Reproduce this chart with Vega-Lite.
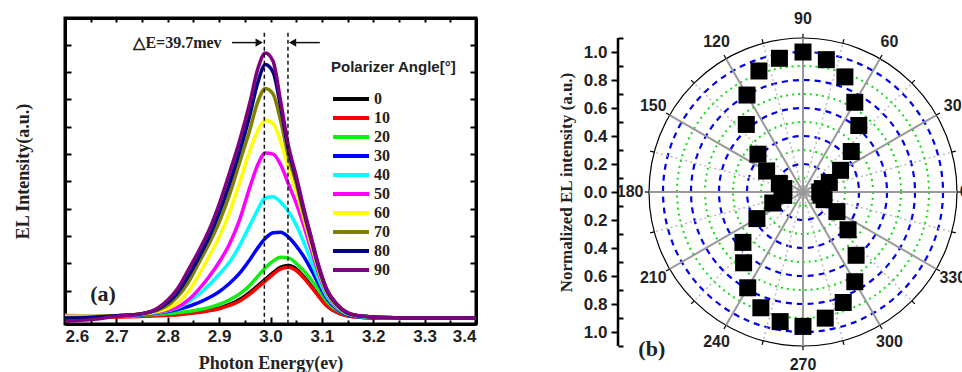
{
"$schema": "https://vega.github.io/schema/vega-lite/v6.json",
"background": "white",
"padding": {"left": 12, "top": 11, "right": 0, "bottom": 0},
"spacing": 72,
"config": {
 "font": "Liberation Sans",
 "view": {"stroke": null},
 "axis": {"grid": false, "domainColor": "#000", "tickColor": "#000", "labelColor": "#222", "titleColor": "#222", "labelFont": "Liberation Sans", "labelFontWeight": "bold", "titleFont": "Liberation Serif", "titleFontWeight": "bold"}
},
"datasets": {
 "spectra": [
{"angle":0,"energy":2.6,"intensity":0.03},{"angle":0,"energy":2.65,"intensity":0.03},{"angle":0,"energy":2.7,"intensity":0.03},{"angle":0,"energy":2.75,"intensity":0.04},{"angle":0,"energy":2.78,"intensity":0.05},{"angle":0,"energy":2.8,"intensity":0.06},{"angle":0,"energy":2.82,"intensity":0.07},{"angle":0,"energy":2.84,"intensity":0.09},{"angle":0,"energy":2.86,"intensity":0.11},{"angle":0,"energy":2.88,"intensity":0.14},{"angle":0,"energy":2.9,"intensity":0.18},{"angle":0,"energy":2.92,"intensity":0.25},{"angle":0,"energy":2.94,"intensity":0.34},{"angle":0,"energy":2.96,"intensity":0.47},{"angle":0,"energy":2.975,"intensity":0.59},{"angle":0,"energy":2.99,"intensity":0.71},{"angle":0,"energy":3.005,"intensity":0.83},{"angle":0,"energy":3.02,"intensity":0.93},{"angle":0,"energy":3.035,"intensity":0.96},{"angle":0,"energy":3.05,"intensity":0.9},{"angle":0,"energy":3.065,"intensity":0.75},{"angle":0,"energy":3.08,"intensity":0.58},{"angle":0,"energy":3.095,"intensity":0.39},{"angle":0,"energy":3.11,"intensity":0.22},{"angle":0,"energy":3.13,"intensity":0.1},{"angle":0,"energy":3.15,"intensity":0.04},{"angle":0,"energy":3.18,"intensity":0.01},{"angle":0,"energy":3.22,"intensity":0},{"angle":0,"energy":3.3,"intensity":0},{"angle":0,"energy":3.4,"intensity":0},
{"angle":10,"energy":2.6,"intensity":0.02},{"angle":10,"energy":2.65,"intensity":0.02},{"angle":10,"energy":2.7,"intensity":0.02},{"angle":10,"energy":2.75,"intensity":0.03},{"angle":10,"energy":2.78,"intensity":0.04},{"angle":10,"energy":2.8,"intensity":0.05},{"angle":10,"energy":2.82,"intensity":0.06},{"angle":10,"energy":2.84,"intensity":0.08},{"angle":10,"energy":2.86,"intensity":0.1},{"angle":10,"energy":2.88,"intensity":0.13},{"angle":10,"energy":2.9,"intensity":0.17},{"angle":10,"energy":2.92,"intensity":0.23},{"angle":10,"energy":2.94,"intensity":0.31},{"angle":10,"energy":2.96,"intensity":0.44},{"angle":10,"energy":2.975,"intensity":0.56},{"angle":10,"energy":2.99,"intensity":0.68},{"angle":10,"energy":3.005,"intensity":0.8},{"angle":10,"energy":3.02,"intensity":0.9},{"angle":10,"energy":3.035,"intensity":0.93},{"angle":10,"energy":3.05,"intensity":0.87},{"angle":10,"energy":3.065,"intensity":0.73},{"angle":10,"energy":3.08,"intensity":0.56},{"angle":10,"energy":3.095,"intensity":0.38},{"angle":10,"energy":3.11,"intensity":0.22},{"angle":10,"energy":3.13,"intensity":0.1},{"angle":10,"energy":3.15,"intensity":0.04},{"angle":10,"energy":3.18,"intensity":0.01},{"angle":10,"energy":3.22,"intensity":0},{"angle":10,"energy":3.3,"intensity":0},{"angle":10,"energy":3.4,"intensity":0},
{"angle":20,"energy":2.6,"intensity":0.02},{"angle":20,"energy":2.65,"intensity":0.03},{"angle":20,"energy":2.7,"intensity":0.03},{"angle":20,"energy":2.75,"intensity":0.05},{"angle":20,"energy":2.78,"intensity":0.07},{"angle":20,"energy":2.8,"intensity":0.08},{"angle":20,"energy":2.82,"intensity":0.1},{"angle":20,"energy":2.84,"intensity":0.12},{"angle":20,"energy":2.86,"intensity":0.15},{"angle":20,"energy":2.88,"intensity":0.19},{"angle":20,"energy":2.9,"intensity":0.25},{"angle":20,"energy":2.92,"intensity":0.33},{"angle":20,"energy":2.94,"intensity":0.44},{"angle":20,"energy":2.96,"intensity":0.6},{"angle":20,"energy":2.975,"intensity":0.76},{"angle":20,"energy":2.99,"intensity":0.92},{"angle":20,"energy":3.005,"intensity":1.04},{"angle":20,"energy":3.02,"intensity":1.11},{"angle":20,"energy":3.035,"intensity":1.1},{"angle":20,"energy":3.05,"intensity":1.0},{"angle":20,"energy":3.065,"intensity":0.86},{"angle":20,"energy":3.08,"intensity":0.69},{"angle":20,"energy":3.095,"intensity":0.5},{"angle":20,"energy":3.11,"intensity":0.3},{"angle":20,"energy":3.13,"intensity":0.14},{"angle":20,"energy":3.15,"intensity":0.06},{"angle":20,"energy":3.18,"intensity":0.02},{"angle":20,"energy":3.22,"intensity":0.01},{"angle":20,"energy":3.3,"intensity":0},{"angle":20,"energy":3.4,"intensity":0},
{"angle":30,"energy":2.6,"intensity":0.04},{"angle":30,"energy":2.65,"intensity":0.04},{"angle":30,"energy":2.7,"intensity":0.04},{"angle":30,"energy":2.75,"intensity":0.06},{"angle":30,"energy":2.78,"intensity":0.09},{"angle":30,"energy":2.8,"intensity":0.12},{"angle":30,"energy":2.82,"intensity":0.16},{"angle":30,"energy":2.84,"intensity":0.21},{"angle":30,"energy":2.86,"intensity":0.28},{"angle":30,"energy":2.88,"intensity":0.37},{"angle":30,"energy":2.9,"intensity":0.48},{"angle":30,"energy":2.92,"intensity":0.63},{"angle":30,"energy":2.94,"intensity":0.82},{"angle":30,"energy":2.96,"intensity":1.07},{"angle":30,"energy":2.975,"intensity":1.28},{"angle":30,"energy":2.99,"intensity":1.46},{"angle":30,"energy":3.005,"intensity":1.56},{"angle":30,"energy":3.02,"intensity":1.57},{"angle":30,"energy":3.035,"intensity":1.48},{"angle":30,"energy":3.05,"intensity":1.32},{"angle":30,"energy":3.065,"intensity":1.12},{"angle":30,"energy":3.08,"intensity":0.87},{"angle":30,"energy":3.095,"intensity":0.6},{"angle":30,"energy":3.11,"intensity":0.35},{"angle":30,"energy":3.13,"intensity":0.16},{"angle":30,"energy":3.15,"intensity":0.06},{"angle":30,"energy":3.18,"intensity":0.02},{"angle":30,"energy":3.22,"intensity":0.01},{"angle":30,"energy":3.3,"intensity":0},{"angle":30,"energy":3.4,"intensity":0},
{"angle":40,"energy":2.6,"intensity":0.05},{"angle":40,"energy":2.65,"intensity":0.04},{"angle":40,"energy":2.7,"intensity":0.04},{"angle":40,"energy":2.75,"intensity":0.07},{"angle":40,"energy":2.78,"intensity":0.1},{"angle":40,"energy":2.8,"intensity":0.13},{"angle":40,"energy":2.82,"intensity":0.19},{"angle":40,"energy":2.84,"intensity":0.29},{"angle":40,"energy":2.86,"intensity":0.43},{"angle":40,"energy":2.88,"intensity":0.6},{"angle":40,"energy":2.9,"intensity":0.8},{"angle":40,"energy":2.92,"intensity":1.02},{"angle":40,"energy":2.94,"intensity":1.33},{"angle":40,"energy":2.96,"intensity":1.7},{"angle":40,"energy":2.975,"intensity":1.98},{"angle":40,"energy":2.99,"intensity":2.2},{"angle":40,"energy":3.005,"intensity":2.22},{"angle":40,"energy":3.02,"intensity":2.12},{"angle":40,"energy":3.035,"intensity":1.95},{"angle":40,"energy":3.05,"intensity":1.7},{"angle":40,"energy":3.065,"intensity":1.38},{"angle":40,"energy":3.08,"intensity":1.02},{"angle":40,"energy":3.095,"intensity":0.68},{"angle":40,"energy":3.11,"intensity":0.39},{"angle":40,"energy":3.13,"intensity":0.18},{"angle":40,"energy":3.15,"intensity":0.07},{"angle":40,"energy":3.18,"intensity":0.02},{"angle":40,"energy":3.22,"intensity":0.01},{"angle":40,"energy":3.3,"intensity":0},{"angle":40,"energy":3.4,"intensity":0},
{"angle":50,"energy":2.6,"intensity":0.04},{"angle":50,"energy":2.65,"intensity":0.03},{"angle":50,"energy":2.7,"intensity":0.04},{"angle":50,"energy":2.75,"intensity":0.07},{"angle":50,"energy":2.78,"intensity":0.11},{"angle":50,"energy":2.8,"intensity":0.14},{"angle":50,"energy":2.82,"intensity":0.2},{"angle":50,"energy":2.84,"intensity":0.33},{"angle":50,"energy":2.86,"intensity":0.52},{"angle":50,"energy":2.88,"intensity":0.75},{"angle":50,"energy":2.9,"intensity":1.02},{"angle":50,"energy":2.92,"intensity":1.35},{"angle":50,"energy":2.94,"intensity":1.8},{"angle":50,"energy":2.96,"intensity":2.4},{"angle":50,"energy":2.975,"intensity":2.8},{"angle":50,"energy":2.99,"intensity":3.02},{"angle":50,"energy":3.005,"intensity":3.0},{"angle":50,"energy":3.02,"intensity":2.8},{"angle":50,"energy":3.035,"intensity":2.45},{"angle":50,"energy":3.05,"intensity":2.1},{"angle":50,"energy":3.065,"intensity":1.68},{"angle":50,"energy":3.08,"intensity":1.22},{"angle":50,"energy":3.095,"intensity":0.78},{"angle":50,"energy":3.11,"intensity":0.44},{"angle":50,"energy":3.13,"intensity":0.2},{"angle":50,"energy":3.15,"intensity":0.08},{"angle":50,"energy":3.18,"intensity":0.03},{"angle":50,"energy":3.22,"intensity":0.01},{"angle":50,"energy":3.3,"intensity":0},{"angle":50,"energy":3.4,"intensity":0},
{"angle":60,"energy":2.6,"intensity":0.03},{"angle":60,"energy":2.65,"intensity":0.03},{"angle":60,"energy":2.7,"intensity":0.04},{"angle":60,"energy":2.75,"intensity":0.08},{"angle":60,"energy":2.78,"intensity":0.12},{"angle":60,"energy":2.8,"intensity":0.17},{"angle":60,"energy":2.82,"intensity":0.28},{"angle":60,"energy":2.84,"intensity":0.48},{"angle":60,"energy":2.86,"intensity":0.78},{"angle":60,"energy":2.88,"intensity":1.12},{"angle":60,"energy":2.9,"intensity":1.48},{"angle":60,"energy":2.92,"intensity":1.93},{"angle":60,"energy":2.94,"intensity":2.48},{"angle":60,"energy":2.96,"intensity":3.07},{"angle":60,"energy":2.975,"intensity":3.42},{"angle":60,"energy":2.99,"intensity":3.62},{"angle":60,"energy":3.005,"intensity":3.56},{"angle":60,"energy":3.02,"intensity":3.22},{"angle":60,"energy":3.035,"intensity":2.75},{"angle":60,"energy":3.05,"intensity":2.32},{"angle":60,"energy":3.065,"intensity":1.82},{"angle":60,"energy":3.08,"intensity":1.32},{"angle":60,"energy":3.095,"intensity":0.84},{"angle":60,"energy":3.11,"intensity":0.46},{"angle":60,"energy":3.13,"intensity":0.22},{"angle":60,"energy":3.15,"intensity":0.08},{"angle":60,"energy":3.18,"intensity":0.03},{"angle":60,"energy":3.22,"intensity":0.01},{"angle":60,"energy":3.3,"intensity":0},{"angle":60,"energy":3.4,"intensity":0},
{"angle":70,"energy":2.6,"intensity":0.01},{"angle":70,"energy":2.65,"intensity":0.02},{"angle":70,"energy":2.7,"intensity":0.04},{"angle":70,"energy":2.75,"intensity":0.08},{"angle":70,"energy":2.78,"intensity":0.14},{"angle":70,"energy":2.8,"intensity":0.23},{"angle":70,"energy":2.82,"intensity":0.4},{"angle":70,"energy":2.84,"intensity":0.65},{"angle":70,"energy":2.86,"intensity":1.0},{"angle":70,"energy":2.88,"intensity":1.35},{"angle":70,"energy":2.9,"intensity":1.75},{"angle":70,"energy":2.92,"intensity":2.25},{"angle":70,"energy":2.94,"intensity":2.85},{"angle":70,"energy":2.96,"intensity":3.45},{"angle":70,"energy":2.975,"intensity":3.95},{"angle":70,"energy":2.99,"intensity":4.2},{"angle":70,"energy":3.005,"intensity":4.1},{"angle":70,"energy":3.02,"intensity":3.6},{"angle":70,"energy":3.035,"intensity":2.95},{"angle":70,"energy":3.05,"intensity":2.47},{"angle":70,"energy":3.065,"intensity":1.9},{"angle":70,"energy":3.08,"intensity":1.38},{"angle":70,"energy":3.095,"intensity":0.87},{"angle":70,"energy":3.11,"intensity":0.48},{"angle":70,"energy":3.13,"intensity":0.23},{"angle":70,"energy":3.15,"intensity":0.09},{"angle":70,"energy":3.18,"intensity":0.03},{"angle":70,"energy":3.22,"intensity":0.01},{"angle":70,"energy":3.3,"intensity":0},{"angle":70,"energy":3.4,"intensity":0},
{"angle":80,"energy":2.6,"intensity":0.0},{"angle":80,"energy":2.65,"intensity":0.01},{"angle":80,"energy":2.7,"intensity":0.04},{"angle":80,"energy":2.75,"intensity":0.08},{"angle":80,"energy":2.78,"intensity":0.16},{"angle":80,"energy":2.8,"intensity":0.28},{"angle":80,"energy":2.82,"intensity":0.47},{"angle":80,"energy":2.84,"intensity":0.76},{"angle":80,"energy":2.86,"intensity":1.1},{"angle":80,"energy":2.88,"intensity":1.47},{"angle":80,"energy":2.9,"intensity":1.92},{"angle":80,"energy":2.92,"intensity":2.45},{"angle":80,"energy":2.94,"intensity":3.05},{"angle":80,"energy":2.96,"intensity":3.72},{"angle":80,"energy":2.975,"intensity":4.3},{"angle":80,"energy":2.99,"intensity":4.64},{"angle":80,"energy":3.005,"intensity":4.5},{"angle":80,"energy":3.02,"intensity":3.85},{"angle":80,"energy":3.035,"intensity":3.08},{"angle":80,"energy":3.05,"intensity":2.55},{"angle":80,"energy":3.065,"intensity":1.96},{"angle":80,"energy":3.08,"intensity":1.42},{"angle":80,"energy":3.095,"intensity":0.9},{"angle":80,"energy":3.11,"intensity":0.5},{"angle":80,"energy":3.13,"intensity":0.24},{"angle":80,"energy":3.15,"intensity":0.09},{"angle":80,"energy":3.18,"intensity":0.03},{"angle":80,"energy":3.22,"intensity":0.01},{"angle":80,"energy":3.3,"intensity":0},{"angle":80,"energy":3.4,"intensity":0},
{"angle":90,"energy":2.6,"intensity":-0.06},{"angle":90,"energy":2.65,"intensity":-0.03},{"angle":90,"energy":2.7,"intensity":0.03},{"angle":90,"energy":2.75,"intensity":0.08},{"angle":90,"energy":2.78,"intensity":0.18},{"angle":90,"energy":2.8,"intensity":0.33},{"angle":90,"energy":2.82,"intensity":0.55},{"angle":90,"energy":2.84,"intensity":0.88},{"angle":90,"energy":2.86,"intensity":1.22},{"angle":90,"energy":2.88,"intensity":1.6},{"angle":90,"energy":2.9,"intensity":2.08},{"angle":90,"energy":2.92,"intensity":2.65},{"angle":90,"energy":2.94,"intensity":3.25},{"angle":90,"energy":2.96,"intensity":3.95},{"angle":90,"energy":2.975,"intensity":4.55},{"angle":90,"energy":2.99,"intensity":4.85},{"angle":90,"energy":3.005,"intensity":4.7},{"angle":90,"energy":3.02,"intensity":3.95},{"angle":90,"energy":3.035,"intensity":3.15},{"angle":90,"energy":3.05,"intensity":2.6},{"angle":90,"energy":3.065,"intensity":2.0},{"angle":90,"energy":3.08,"intensity":1.45},{"angle":90,"energy":3.095,"intensity":0.92},{"angle":90,"energy":3.11,"intensity":0.52},{"angle":90,"energy":3.13,"intensity":0.25},{"angle":90,"energy":3.15,"intensity":0.1},{"angle":90,"energy":3.18,"intensity":0.03},{"angle":90,"energy":3.22,"intensity":0.01},{"angle":90,"energy":3.3,"intensity":0},{"angle":90,"energy":3.4,"intensity":0}
 ],
 "polar": [
{"angle":0,"r":0.12},{"angle":10,"r":0.14},{"angle":20,"r":0.2},{"angle":30,"r":0.31},{"angle":40,"r":0.45},{"angle":50,"r":0.62},{"angle":60,"r":0.74},{"angle":70,"r":0.875},{"angle":80,"r":0.96},{"angle":90,"r":1.0},{"angle":100,"r":0.97},{"angle":110,"r":0.92},{"angle":120,"r":0.8},{"angle":130,"r":0.63},{"angle":140,"r":0.42},{"angle":150,"r":0.3},{"angle":160,"r":0.18},{"angle":170,"r":0.14},{"angle":180,"r":0.15},{"angle":190,"r":0.14},{"angle":200,"r":0.23},{"angle":210,"r":0.38},{"angle":220,"r":0.56},{"angle":230,"r":0.66},{"angle":240,"r":0.79},{"angle":250,"r":0.88},{"angle":260,"r":0.94},{"angle":270,"r":0.96},{"angle":280,"r":0.915},{"angle":290,"r":0.84},{"angle":300,"r":0.74},{"angle":310,"r":0.59},{"angle":320,"r":0.42},{"angle":330,"r":0.28},{"angle":340,"r":0.16},{"angle":350,"r":0.13}
 ],
 "spokes": [
{"a":0,"kind":"major"},{"a":15,"kind":"minor"},{"a":30,"kind":"major"},{"a":45,"kind":"minor"},{"a":60,"kind":"major"},{"a":75,"kind":"minor"},{"a":90,"kind":"major"},{"a":105,"kind":"minor"},{"a":120,"kind":"major"},{"a":135,"kind":"minor"},{"a":150,"kind":"major"},{"a":165,"kind":"minor"},{"a":180,"kind":"major"},{"a":195,"kind":"minor"},{"a":210,"kind":"major"},{"a":225,"kind":"minor"},{"a":240,"kind":"major"},{"a":255,"kind":"minor"},{"a":270,"kind":"major"},{"a":285,"kind":"minor"},{"a":300,"kind":"major"},{"a":315,"kind":"minor"},{"a":330,"kind":"major"},{"a":345,"kind":"minor"}
 ],
 "rings": [
{"r":0.1,"kind":"dot"},{"r":0.2,"kind":"dash"},{"r":0.3,"kind":"dot"},{"r":0.4,"kind":"dash"},{"r":0.5,"kind":"dot"},{"r":0.6,"kind":"dash"},{"r":0.7,"kind":"dot"},{"r":0.8,"kind":"dash"},{"r":0.9,"kind":"dot"},{"r":1.0,"kind":"dash"},{"r":1.1,"kind":"outer"}
 ]
},
"hconcat": [
 {
  "width": 411, "height": 306,
  "view": {"stroke": "black", "strokeWidth": 3},
  "resolve": {"axis": {"x": "independent", "y": "independent"}},
  "layer": [
   {
    "data": {"name": "spectra"},
    "mark": {"type": "line", "strokeWidth": 3.5, "interpolate": "monotone"},
    "encoding": {
     "x": {"field": "energy", "type": "quantitative", "scale": {"domain": [2.6, 3.4], "nice": false, "zero": false},
      "axis": {"orient": "bottom", "values": [2.6, 2.7, 2.8, 2.9, 3.0, 3.1, 3.2, 3.3, 3.4], "format": ".1f", "tickSize": -7, "tickWidth": 2, "domainWidth": 3, "labelFontSize": 17, "labelPadding": 11, "title": "Photon Energy(ev)", "titleFontSize": 18, "titlePadding": 10}},
     "y": {"field": "intensity", "type": "quantitative", "scale": {"domain": [-0.11, 5.49], "nice": false, "zero": false},
      "axis": {"orient": "left", "values": [0, 0.5, 1, 1.5, 2, 2.5, 3, 3.5, 4, 4.5, 5], "labels": false, "tickSize": -6, "tickWidth": 2, "domainWidth": 3, "title": "EL Intensity(a.u.)", "titleFontSize": 18, "titlePadding": 32}},
     "color": {"field": "angle", "type": "nominal",
      "scale": {"domain": [0, 10, 20, 30, 40, 50, 60, 70, 80, 90], "range": ["#000000", "#ff0000", "#11ee11", "#0000ff", "#00ffff", "#ff00ff", "#ffff00", "#808000", "#000080", "#800080"]},
      "legend": {"orient": "none", "legendX": 266, "legendY": 42, "title": "Polarizer Angle[°]", "titleFont": "Liberation Sans", "titleFontWeight": "bold", "titleFontSize": 15, "titleColor": "#222", "titlePadding": 13, "titleLimit": 300, "symbolType": "M-1,0H3", "symbolSize": 324, "symbolStrokeWidth": 4, "labelFont": "Liberation Serif", "labelFontWeight": "bold", "labelFontSize": 16, "labelColor": "#222", "labelOffset": 21, "rowPadding": 0}}
    }
   },
   {
    "data": {"values": [{"energy": 2.988, "top": 5.22, "bottom": -0.11}, {"energy": 3.034, "top": 5.22, "bottom": -0.11}]},
    "mark": {"type": "rule", "color": "#111", "strokeWidth": 1.5, "strokeDash": [4, 3]},
    "encoding": {
     "x": {"field": "energy", "type": "quantitative", "scale": {"domain": [2.6, 3.4], "nice": false, "zero": false},
      "axis": {"orient": "top", "values": [2.6, 2.65, 2.7, 2.75, 2.8, 2.85, 2.9, 2.95, 3.0, 3.05, 3.1, 3.15, 3.2, 3.25, 3.3, 3.35, 3.4], "labels": false, "tickSize": -4, "tickWidth": 2, "domainWidth": 3, "title": null}},
     "y": {"field": "top", "type": "quantitative", "scale": {"domain": [-0.11, 5.49], "nice": false, "zero": false},
      "axis": {"orient": "right", "values": [0, 0.5, 1, 1.5, 2, 2.5, 3, 3.5, 4, 4.5, 5], "labels": false, "tickSize": -6, "tickWidth": 2, "domainWidth": 3, "title": null}},
     "y2": {"field": "bottom"}
    }
   },
   {
    "data": {"values": [{"start": 2.925, "end": 2.982, "level": 5.04}, {"start": 3.096, "end": 3.04, "level": 5.04}]},
    "mark": {"type": "rule", "color": "#111", "strokeWidth": 1.5},
    "encoding": {
     "x": {"field": "start", "type": "quantitative", "scale": {"domain": [2.6, 3.4], "nice": false, "zero": false},
      "axis": {"orient": "bottom", "values": [2.65, 2.75, 2.85, 2.95, 3.05, 3.15, 3.25, 3.35], "labels": false, "tickSize": -4, "tickWidth": 2, "domain": false, "title": null}},
     "x2": {"field": "end"},
     "y": {"field": "level", "type": "quantitative", "scale": {"domain": [-0.11, 5.49], "nice": false, "zero": false}, "axis": null}
    }
   },
   {
    "data": {"values": [{"energy": 2.978, "level": 5.04, "dir": "triangle-right"}, {"energy": 3.043, "level": 5.04, "dir": "triangle-left"}]},
    "mark": {"type": "point", "filled": true, "color": "#111", "size": 70, "opacity": 1},
    "encoding": {
     "x": {"field": "energy", "type": "quantitative", "scale": {"domain": [2.6, 3.4], "nice": false, "zero": false}, "axis": null},
     "y": {"field": "level", "type": "quantitative", "scale": {"domain": [-0.11, 5.49], "nice": false, "zero": false}, "axis": null},
     "shape": {"field": "dir", "type": "nominal", "scale": {"domain": ["triangle-right", "triangle-left"], "range": ["triangle-right", "triangle-left"]}, "legend": null}
    }
   },
   {
    "data": {"values": [{"energy": 2.819, "level": 5.04, "label": "△E=39.7mev", "size": 16}, {"energy": 2.674, "level": 0.44, "label": "(a)", "size": 22}]},
    "mark": {"type": "text", "font": "Liberation Serif", "fontWeight": "bold", "color": "#222", "align": "center", "baseline": "middle"},
    "encoding": {
     "x": {"field": "energy", "type": "quantitative", "scale": {"domain": [2.6, 3.4], "nice": false, "zero": false}, "axis": null},
     "y": {"field": "level", "type": "quantitative", "scale": {"domain": [-0.11, 5.49], "nice": false, "zero": false}, "axis": null},
     "text": {"field": "label"},
     "size": {"field": "size", "type": "quantitative", "scale": null, "legend": null}
    }
   }
  ]
 },
 {
  "width": 308, "height": 328,
  "resolve": {"axis": {"y": "independent"}},
  "layer": [
   {
    "data": {"name": "rings"},
    "transform": [{"filter": "datum.kind == 'dot'"}, {"calculate": "0", "as": "o"}],
    "mark": {"type": "point", "shape": "circle", "filled": false, "stroke": "#11dd11", "strokeWidth": 2, "strokeDash": [2, 4], "opacity": 1},
    "encoding": {
     "x": {"field": "o", "type": "quantitative", "scale": {"domain": [-1.1, 1.1], "nice": false, "zero": false}, "axis": null},
     "y": {"field": "o", "type": "quantitative", "scale": {"domain": [-1.1, 1.243], "nice": false, "zero": false}, "axis": null},
     "size": {"field": "r", "type": "quantitative", "scale": {"type": "pow", "exponent": 2, "domain": [0, 1.1], "range": [0, 94864], "zero": true, "nice": false}, "legend": null}
    }
   },
   {
    "data": {"name": "rings"},
    "transform": [{"filter": "datum.kind == 'dash'"}, {"calculate": "0", "as": "o"}],
    "mark": {"type": "point", "shape": "circle", "filled": false, "stroke": "#0000ee", "strokeWidth": 2.2, "strokeDash": [6, 5], "opacity": 1},
    "encoding": {
     "x": {"field": "o", "type": "quantitative", "scale": {"domain": [-1.1, 1.1], "nice": false, "zero": false}, "axis": null},
     "y": {"field": "o", "type": "quantitative", "scale": {"domain": [-1.1, 1.243], "nice": false, "zero": false}, "axis": null},
     "size": {"field": "r", "type": "quantitative", "scale": {"type": "pow", "exponent": 2, "domain": [0, 1.1], "range": [0, 94864], "zero": true, "nice": false}, "legend": null}
    }
   },
   {
    "data": {"name": "rings"},
    "transform": [{"filter": "datum.kind == 'outer'"}, {"calculate": "0", "as": "o"}],
    "mark": {"type": "point", "shape": "circle", "filled": false, "stroke": "#000", "strokeWidth": 1.2, "opacity": 1},
    "encoding": {
     "x": {"field": "o", "type": "quantitative", "scale": {"domain": [-1.1, 1.1], "nice": false, "zero": false}, "axis": null},
     "y": {"field": "o", "type": "quantitative", "scale": {"domain": [-1.1, 1.243], "nice": false, "zero": false}, "axis": null},
     "size": {"field": "r", "type": "quantitative", "scale": {"type": "pow", "exponent": 2, "domain": [0, 1.1], "range": [0, 94864], "zero": true, "nice": false}, "legend": null}
    }
   },
   {
    "data": {"name": "spokes"},
    "transform": [{"filter": "datum.kind == 'minor'"}, {"calculate": "1.1*cos(datum.a*PI/180)", "as": "ex"}, {"calculate": "1.1*sin(datum.a*PI/180)", "as": "ey"}, {"calculate": "0", "as": "o"}],
    "mark": {"type": "rule", "color": "#bbbbbb", "strokeWidth": 1.5, "strokeDash": [2, 3]},
    "encoding": {
     "x": {"field": "o", "type": "quantitative", "scale": {"domain": [-1.1, 1.1], "nice": false, "zero": false}, "axis": null},
     "y": {"field": "o", "type": "quantitative", "scale": {"domain": [-1.1, 1.243], "nice": false, "zero": false},
      "axis": {"orient": "left", "offset": 31, "values": [-1.1, -0.9, -0.7, -0.5, -0.3, -0.1, 0.1, 0.3, 0.5, 0.7, 0.9, 1.1], "labels": false, "domain": false, "tickSize": -5, "tickWidth": 2, "title": null}},
     "x2": {"field": "ex"},
     "y2": {"field": "ey"}
    }
   },
   {
    "data": {"name": "spokes"},
    "transform": [{"filter": "datum.kind == 'major'"}, {"calculate": "1.1*cos(datum.a*PI/180)", "as": "ex"}, {"calculate": "1.1*sin(datum.a*PI/180)", "as": "ey"}, {"calculate": "0", "as": "o"}],
    "mark": {"type": "rule", "color": "#999999", "strokeWidth": 2},
    "encoding": {
     "x": {"field": "o", "type": "quantitative", "scale": {"domain": [-1.1, 1.1], "nice": false, "zero": false}, "axis": null},
     "y": {"field": "o", "type": "quantitative", "scale": {"domain": [-1.1, 1.243], "nice": false, "zero": false}, "axis": null},
     "x2": {"field": "ex"},
     "y2": {"field": "ey"}
    }
   },
   {
    "data": {"name": "spokes"},
    "transform": [{"calculate": "1.1*cos(datum.a*PI/180)", "as": "sx"}, {"calculate": "1.1*sin(datum.a*PI/180)", "as": "sy"}, {"calculate": "1.13*cos(datum.a*PI/180)", "as": "ex"}, {"calculate": "1.13*sin(datum.a*PI/180)", "as": "ey"}],
    "mark": {"type": "rule", "color": "#000", "strokeWidth": 1.2},
    "encoding": {
     "x": {"field": "sx", "type": "quantitative", "scale": {"domain": [-1.1, 1.1], "nice": false, "zero": false}, "axis": null},
     "y": {"field": "sy", "type": "quantitative", "scale": {"domain": [-1.1, 1.243], "nice": false, "zero": false}, "axis": null},
     "x2": {"field": "ex"},
     "y2": {"field": "ey"}
    }
   },
   {
    "data": {"values": [{"ax": -1.3214, "lo": -1.1, "hi": 1.1}]},
    "mark": {"type": "rule", "color": "#000", "strokeWidth": 2.5},
    "encoding": {
     "x": {"field": "ax", "type": "quantitative", "scale": {"domain": [-1.1, 1.1], "nice": false, "zero": false}, "axis": null},
     "y": {"field": "lo", "type": "quantitative", "scale": {"domain": [-1.1, 1.243], "nice": false, "zero": false}, "axis": null},
     "y2": {"field": "hi"}
    }
   },
   {
    "data": {"name": "polar"},
    "transform": [{"calculate": "datum.r*cos(datum.angle*PI/180)", "as": "px"}, {"calculate": "datum.r*sin(datum.angle*PI/180)", "as": "py"}],
    "mark": {"type": "point", "shape": "square", "filled": true, "color": "#000", "size": 289, "opacity": 1},
    "encoding": {
     "x": {"field": "px", "type": "quantitative", "scale": {"domain": [-1.1, 1.1], "nice": false, "zero": false}, "axis": null},
     "y": {"field": "py", "type": "quantitative", "scale": {"domain": [-1.1, 1.243], "nice": false, "zero": false},
      "axis": {"orient": "left", "offset": 31, "values": [-1, -0.8, -0.6, -0.4, -0.2, 0, 0.2, 0.4, 0.6, 0.8, 1], "labelExpr": "format(abs(datum.value), '.1f')", "domain": false, "tickSize": 7, "tickWidth": 2, "labelFontSize": 17, "labelPadding": 4, "title": "Normalized EL intensity (a.u.)", "titleFontSize": 17, "titlePadding": 8, "titleY": 164}}
    }
   },
   {
    "data": {"values": [{"a": 30, "label": "30"}, {"a": 60, "label": "60"}, {"a": 90, "label": "90"}, {"a": 120, "label": "120"}, {"a": 150, "label": "150"}, {"a": 180, "label": "180"}, {"a": 210, "label": "210"}, {"a": 240, "label": "240"}, {"a": 270, "label": "270"}, {"a": 300, "label": "300"}, {"a": 330, "label": "330"}]},
    "transform": [{"calculate": "1.235*cos(datum.a*PI/180)", "as": "lx"}, {"calculate": "1.235*sin(datum.a*PI/180)", "as": "ly"}],
    "mark": {"type": "text", "font": "Liberation Sans", "fontWeight": "bold", "fontSize": 16, "color": "#222", "align": "center", "baseline": "middle"},
    "encoding": {
     "x": {"field": "lx", "type": "quantitative", "scale": {"domain": [-1.1, 1.1], "nice": false, "zero": false}, "axis": null},
     "y": {"field": "ly", "type": "quantitative", "scale": {"domain": [-1.1, 1.243], "nice": false, "zero": false}, "axis": null},
     "text": {"field": "label"}
    }
   },
   {
    "data": {"values": [{"lx": 1.12, "ly": 0, "label": "0"}]},
    "mark": {"type": "text", "font": "Liberation Sans", "fontWeight": "bold", "fontSize": 16, "color": "#222", "align": "left", "baseline": "middle"},
    "encoding": {
     "x": {"field": "lx", "type": "quantitative", "scale": {"domain": [-1.1, 1.1], "nice": false, "zero": false}, "axis": null},
     "y": {"field": "ly", "type": "quantitative", "scale": {"domain": [-1.1, 1.243], "nice": false, "zero": false}, "axis": null},
     "text": {"field": "label"}
    }
   },
   {
    "data": {"values": [{"lx": -1.08, "ly": -1.12, "label": "(b)"}]},
    "mark": {"type": "text", "font": "Liberation Serif", "fontWeight": "bold", "fontSize": 22, "color": "#222", "align": "center", "baseline": "middle"},
    "encoding": {
     "x": {"field": "lx", "type": "quantitative", "scale": {"domain": [-1.1, 1.1], "nice": false, "zero": false}, "axis": null},
     "y": {"field": "ly", "type": "quantitative", "scale": {"domain": [-1.1, 1.243], "nice": false, "zero": false}, "axis": null},
     "text": {"field": "label"}
    }
   }
  ]
 }
]
}
